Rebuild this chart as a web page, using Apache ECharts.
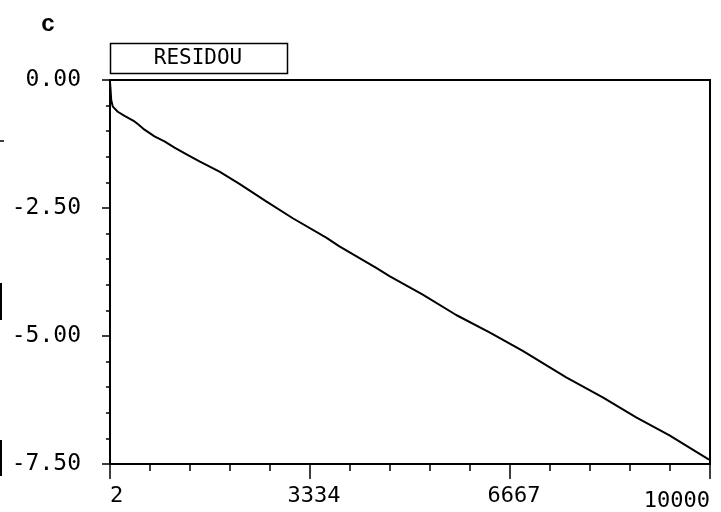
<!DOCTYPE html>
<html>
<head>
<meta charset="utf-8">
<script src="https://cdn.jsdelivr.net/npm/echarts@6/dist/echarts.min.js"></script>
<style>
html,body{margin:0;padding:0;background:#fff;}
#chart{width:721px;height:512px;}
</style>
</head>
<body>
<div id="chart"></div>
<script>
// ---- data ----
const iterations = [2, 10, 22, 49, 132, 244, 410, 465, 577, 743, 910, 1077, 1293, 1493, 1826, 2159, 2605, 3048, 3605, 3825, 4438, 4659, 5214, 5771, 6326, 6880, 7604, 8213, 8770, 9325, 9963, 10000];
const residou = [-0.05, -0.16, -0.39, -0.52, -0.62, -0.70, -0.81, -0.86, -0.97, -1.10, -1.20, -1.32, -1.46, -1.59, -1.79, -2.03, -2.37, -2.70, -3.08, -3.25, -3.67, -3.83, -4.19, -4.59, -4.93, -5.29, -5.81, -6.20, -6.59, -6.94, -7.40, -7.42];
const xTickValues = [2, 3334, 6667, 10000];
const xTickLabels = ['2', '3334', '6667', '10000'];
const yTickValues = [-7.5, -5, -2.5, 0];
const yTickLabels = ['-7.50', '-5.00', '-2.50', '0.00'];
const legendText = 'RESIDOU';
const panelLetter = 'c';

const mono = '"DejaVu Sans Mono", "Liberation Mono", monospace';

function lookup(v, vals, labels, tol) {
  for (let i = 0; i < vals.length; i++) {
    if (Math.abs(v - vals[i]) <= tol) return labels[i];
  }
  return '';
}

const chart = echarts.init(document.getElementById('chart'), null, {renderer: 'canvas'});
const xMin = xTickValues[0], xMax = xTickValues[xTickValues.length - 1];
chart.setOption({
  animation: false,
  backgroundColor: '#fff',
  grid: {
    left: 110, right: 11, top: 80, bottom: 47,
    show: true, borderColor: '#000', borderWidth: 2, backgroundColor: 'transparent'
  },
  xAxis: {
    type: 'value',
    min: xMin, max: xMax,
    interval: (xMax - xMin) / 3,
    axisLine: {show: true, onZero: false, lineStyle: {color: '#000', width: 2}},
    axisTick: {show: true, inside: false, length: 15, lineStyle: {color: '#000', width: 1.5}},
    minorTick: {show: true, splitNumber: 5, length: 7, lineStyle: {color: '#000', width: 1.5}},
    splitLine: {show: false},
    axisLabel: {
      show: true,
      margin: 21,
      color: '#000',
      fontFamily: mono,
      fontSize: 22,
      alignMinLabel: 'left',
      alignMaxLabel: 'right',
      formatter: function (v) {
        const s = lookup(v, xTickValues, xTickLabels, 5);
        if (Math.abs(v - xMax) < 5) return '{m|' + s + '}';
        if (Math.abs(v - xMin) < 5) return s;
        return '{c|' + s + '}';
      },
      rich: {
        m: {fontFamily: mono, fontSize: 22, color: '#000', padding: [5, 0, 0, 0]},
        c: {fontFamily: mono, fontSize: 22, color: '#000', padding: [0, 0, 0, 8]}
      }
    }
  },
  yAxis: {
    type: 'value',
    min: yTickValues[0], max: yTickValues[yTickValues.length - 1],
    interval: 2.5,
    axisLine: {show: true, onZero: false, lineStyle: {color: '#000', width: 2}},
    axisTick: {show: true, inside: false, length: 8, lineStyle: {color: '#000', width: 1.5}},
    minorTick: {show: true, splitNumber: 5, length: 4, lineStyle: {color: '#000', width: 1.5}},
    splitLine: {show: false},
    axisLabel: {
      show: true,
      margin: 29,
      color: '#000',
      fontFamily: mono,
      fontSize: 23,
      padding: [0, 0, 10, 0],
      formatter: function (v) { return lookup(v, yTickValues, yTickLabels, 0.01); }
    }
  },
  series: [{
    type: 'line',
    data: iterations.map((x, i) => [x, residou[i]]),
    showSymbol: false,
    symbol: 'none',
    smooth: false,
    lineStyle: {color: '#000', width: 2},
    clip: true
  }],
  graphic: [
    {type: 'text', x: 48, y: 24, style: {text: panelLetter, fontSize: 24, fontWeight: 'bold', fontFamily: '"Liberation Sans", Arial, sans-serif', fill: '#000', textAlign: 'center', textVerticalAlign: 'middle'}},
    {type: 'rect', shape: {x: 110.5, y: 43.5, width: 177, height: 30}, style: {fill: '#fff', stroke: '#000', lineWidth: 1.5}},
    {type: 'text', x: 198, y: 59, style: {text: legendText, fontSize: 21, fontFamily: mono, fill: '#000', textAlign: 'center', textVerticalAlign: 'middle'}},
    {type: 'line', shape: {x1: 1, y1: 283, x2: 1, y2: 320}, style: {stroke: '#000', lineWidth: 2}},
    {type: 'line', shape: {x1: 1, y1: 440, x2: 1, y2: 476}, style: {stroke: '#000', lineWidth: 2}},
    {type: 'line', shape: {x1: 0, y1: 141, x2: 4, y2: 141}, style: {stroke: '#000', lineWidth: 1.5}}
  ]
});
</script>
</body>
</html>
